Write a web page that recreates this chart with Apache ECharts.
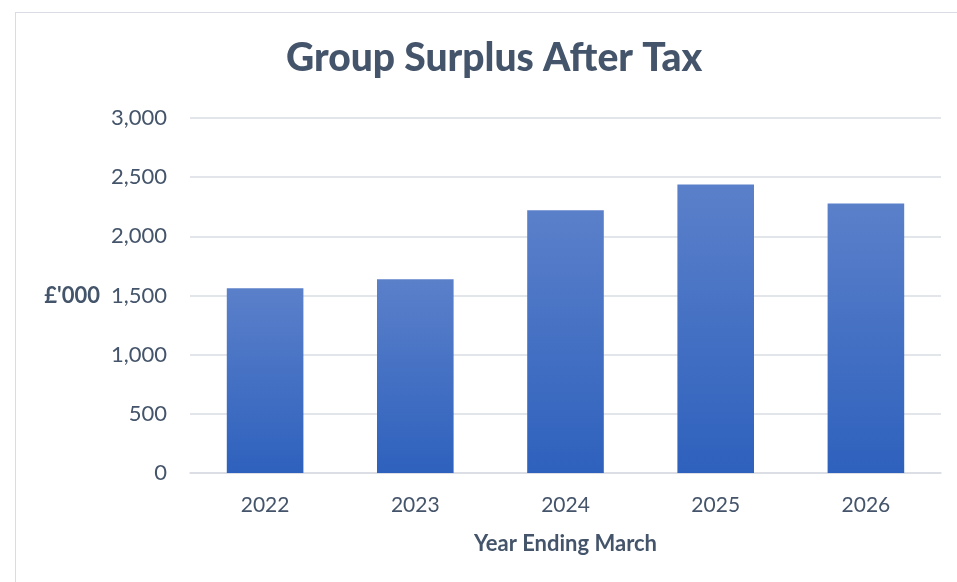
<!DOCTYPE html>
<html>
<head>
<meta charset="utf-8">
<script src="https://cdn.jsdelivr.net/npm/echarts@6/dist/echarts.min.js"></script>
<style>
html,body{margin:0;padding:0;background:#fff;}
#frame{position:absolute;left:15px;top:12px;width:950px;height:600px;border:1px solid #D9DDE3;box-sizing:border-box;}
#c{position:absolute;left:0;top:0;width:957px;height:582px;}
</style>
</head>
<body>
<div id="frame"></div>
<div id="c"></div>
<script>
const categories = ['2022', '2023', '2024', '2025', '2026'];
const surplus = [1561, 1637, 2220, 2438, 2278];
const yTicks = [0, 500, 1000, 1500, 2000, 2500, 3000];

const textColor = '#44546A';
const font = 'Lato';
const chart = echarts.init(document.getElementById('c'), null, {renderer: 'canvas'});
chart.setOption({
  animation: false,
  title: {
    text: 'Group Surplus After Tax',
    left: 281,
    top: 34,
    textStyle: {fontFamily: font, fontWeight: 900, fontSize: 39, color: textColor}
  },
  grid: {left: 190, right: 16, top: 118, bottom: 109, containLabel: false},
  xAxis: {
    type: 'category',
    data: categories,
    name: 'Year Ending March',
    nameLocation: 'middle',
    nameGap: 60,
    nameTextStyle: {fontFamily: font, fontWeight: 'bold', fontSize: 22, color: textColor},
    axisLine: {show: true, lineStyle: {color: '#D9DDE3', width: 1.5}},
    axisTick: {show: false},
    axisLabel: {fontFamily: font, fontSize: 21, color: textColor, margin: 22}
  },
  yAxis: {
    type: 'value',
    min: yTicks[0],
    max: yTicks[yTicks.length - 1],
    interval: yTicks[1] - yTicks[0],
    name: "£'000",
    nameLocation: 'middle',
    nameRotate: 0,
    nameGap: 90,
    nameTextStyle: {fontFamily: font, fontWeight: 'bold', fontSize: 22, color: textColor},
    axisLine: {show: false},
    axisTick: {show: false},
    splitLine: {lineStyle: {color: '#D9DDE3', width: 1.5}},
    axisLabel: {
      fontFamily: font, fontSize: 22, color: textColor, margin: 23,
      formatter: v => v.toLocaleString('en-GB')
    }
  },
  series: [{
    type: 'bar',
    data: surplus,
    barWidth: '51%',
    itemStyle: {
      color: new echarts.graphic.LinearGradient(0, 0, 0, 1, [
        {offset: 0, color: '#5B80CA'},
        {offset: 1, color: '#2E61BD'}
      ], false)
    }
  }]
});
</script>
</body>
</html>
